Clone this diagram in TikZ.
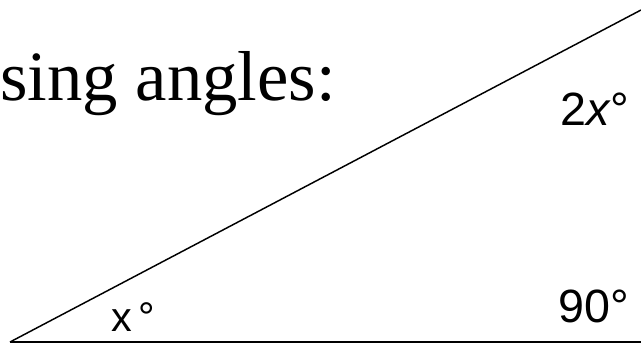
\documentclass[tikz,border=0pt]{standalone}
\usepackage{fontspec}
\setmainfont{Liberation Serif}
\newfontfamily\anglefont{Liberation Sans}
\usepackage{tikz}
\usetikzlibrary{calc}
\tikzset{
	side/.style={black, line width=1.1pt},
	baseside/.style={black, line width=1.6pt},
	title/.style={anchor=base west, inner sep=0pt, font=\fontsize{53}{62}\selectfont},
	anglelabel/.style={anchor=base west, inner sep=0pt, font=\anglefont\fontsize{35}{40}\selectfont},
	smalllabel/.style={anchor=base west, inner sep=0pt, font=\anglefont\fontsize{31}{36}\selectfont}
}

\begin{document}
\begin{tikzpicture}[x=0.75pt, y=-0.75pt]
			
			% Frame
			\useasboundingbox (0,0) rectangle (641,344);
			
			% Heading (cut off at the left)
			\node[title] (heading) at (0,100) {sing angles:};
			
			% Vertices
			\coordinate (A) at (10,342);
			\coordinate (B) at (641,342);
			\coordinate (C) at (641,10);
			
			% Sides
			\draw[side] (A) -- (C);
			\draw[baseside] (A) -- (B);
			
			% Angle labels
			\node[smalllabel] (angA) at (111,331) {x\,°};
			\node[anglelabel] (angB) at (558,322) {90°};
			\node[anglelabel] (angC) at (560,125) {2\textit{x}°};
			
		\end{tikzpicture}
\end{document}
